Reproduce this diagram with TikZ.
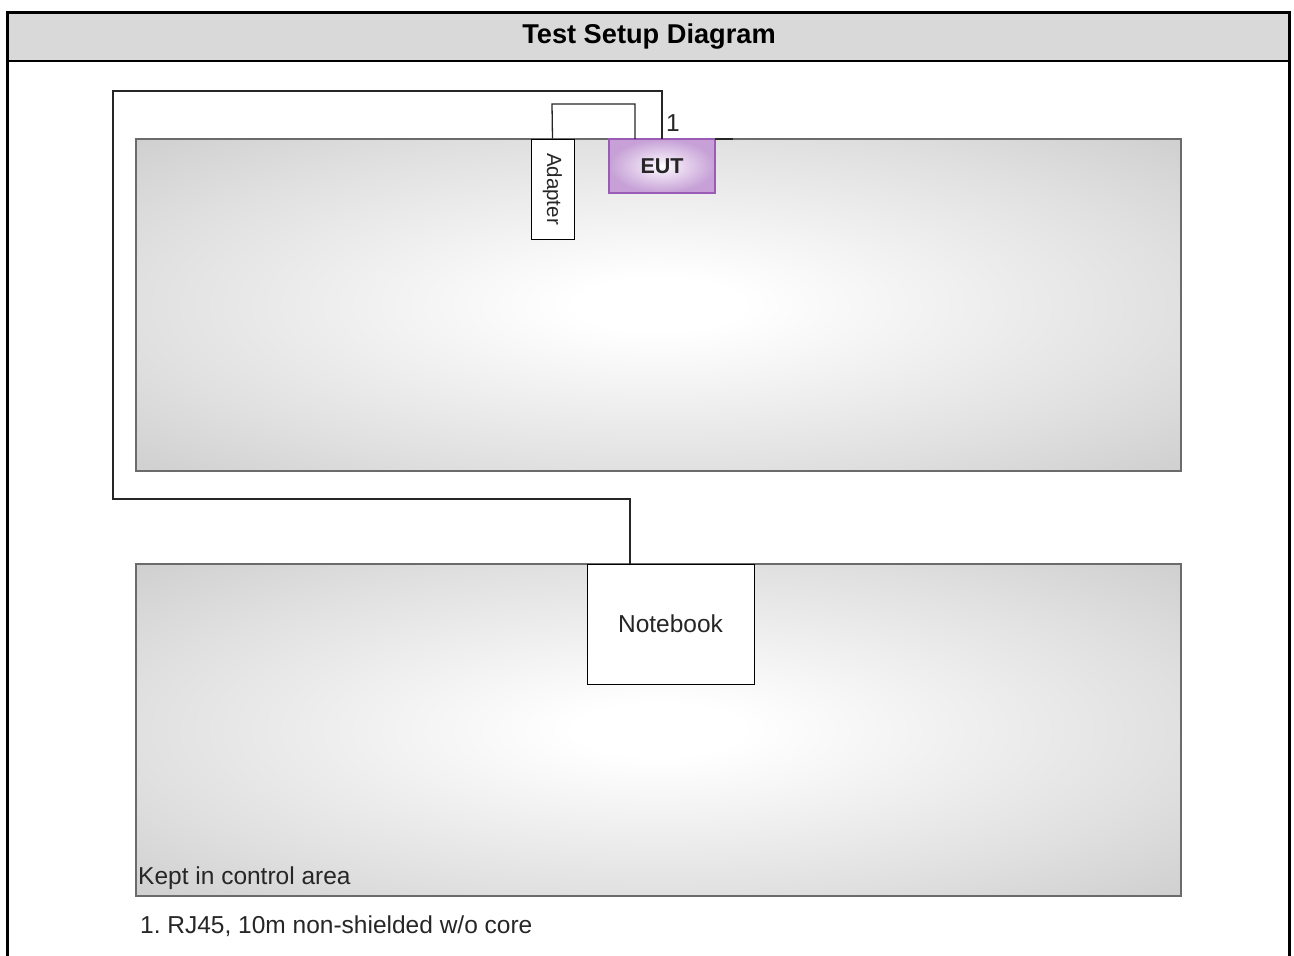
\documentclass[tikz,border=0pt]{standalone}
\usepackage{fontspec}
\setmainfont{Liberation Sans}
\frenchspacing
\pgfdeclareradialshading{softgray}{\pgfpoint{0bp}{0bp}}{color(0bp)=(white); color(4bp)=(white); color(25bp)=(black!12); color(36bp)=(black!19); color(50bp)=(black!20)}
\definecolor{eutedge}{RGB}{198,160,214}
\definecolor{eutmid}{RGB}{240,228,245}
\definecolor{eutline}{RGB}{155,92,182}
\pgfdeclareradialshading{softviolet}{\pgfpoint{0bp}{0bp}}{color(0bp)=(white); color(6bp)=(eutmid); color(25bp)=(eutedge); color(50bp)=(eutedge)}
\begin{document}
\begin{tikzpicture}[x=1pt,y=-1pt,
  table/.style={draw=black!58,line width=1.8pt,shading=softgray},
  box/.style={draw=black,line width=1pt,fill=white},
  cable/.style={draw=black!85,line width=1.3pt},
  txt/.style={font=\fontsize{24.5}{28}\selectfont,text=black!85}]
\useasboundingbox (0,0) rectangle (1294,956);
% frame
\fill[black!15] (7,12) rectangle (1289,61);
\draw[line width=3pt] (7,962) -- (7,12) -- (1289,12) -- (1289,962);
\draw[line width=2pt] (7,61) -- (1289,61);
\node[font=\bfseries\fontsize{27.2}{30}\selectfont] (title) at (649,37) {Test Setup Diagram};
% tables
\path[table] (136,139) rectangle (1181,471);
\path[table] (136,564) rectangle (1181,896);
\node[txt,anchor=west,inner sep=1pt] (kept) at (137,878) {Kept in control area};
\node[txt,anchor=west,inner sep=1pt] (legend) at (139,926) {1. RJ45, 10m non-shielded w/o core};
% devices
\node[draw=eutline,line width=1.4pt,shading=softviolet,minimum width=106pt,minimum height=54pt,font=\bfseries\fontsize{21.5}{24}\selectfont,text=black!85] (eut) at (662,166) {EUT};
\node[box,minimum width=43pt,minimum height=100pt] (adapter) at (552.5,189) {};
\node[font=\fontsize{20.5}{24}\selectfont,rotate=-90,text=black!85] (adtxt) at (552.5,189) {Adapter};
\node[box,minimum width=167pt,minimum height=120pt,txt] (nb) at (670.5,624) {Notebook};
% cables
\coordinate (ep) at (715,139);
\coordinate (eq) at (733,139);
\draw[cable] (ep) -- (eq);
\draw[cable] (adapter.north) -- (552,104) -- (635,104) -- (635,139);
\draw[cable] (662,139) -- (662,91) -- (113,91) -- (113,499) -- (630,499) -- (630,564);
\node[txt] (one) at (673,123) {1};
\end{tikzpicture}
\end{document}
